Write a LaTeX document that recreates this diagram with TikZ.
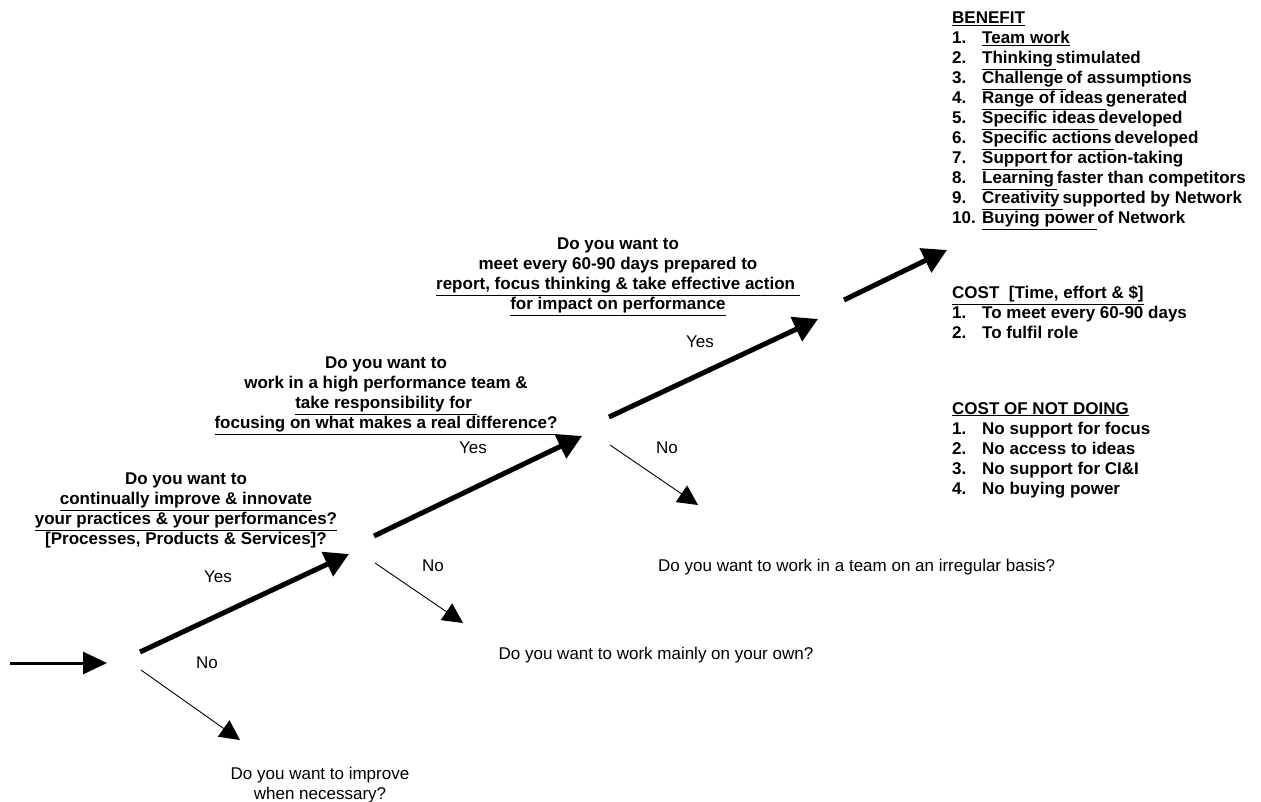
\documentclass[tikz,border=0pt]{standalone}
\usepackage{fontspec}
\setmainfont{Liberation Sans}
\usetikzlibrary{arrows.meta}

\tikzset{
	question/.style={font=\bfseries\fontsize{17}{20}\selectfont, align=center, inner sep=0pt, anchor=north},
	answer/.style={font=\fontsize{17}{20}\selectfont, inner sep=0pt},
	listing/.style={font=\bfseries\fontsize{17}{20}\selectfont, align=left, inner sep=0pt, anchor=north west},
	yesarrow/.style={line width=5pt, -{Triangle[length=24pt, width=26pt]}},
	noarrow/.style={line width=0.9pt, -{Triangle[length=20pt, width=20pt]}},
	startarrow/.style={line width=3pt, -{Triangle[length=24pt, width=22pt]}}
}
\newcommand{\nr}[1]{\makebox[30pt][l]{#1}}

\begin{document}
\begin{tikzpicture}[x=1pt, y=-1pt]
	\useasboundingbox (0,0) rectangle (1261,801);

	\coordinate (e0) at (10,663);
	\coordinate (e1) at (107,663);
	\coordinate (y1a) at (140,652);
	\coordinate (y1b) at (349,554);
	\coordinate (n1a) at (141,670);
	\coordinate (n1b) at (240,740);
	\coordinate (y2a) at (374,536);
	\coordinate (y2b) at (582,436);
	\coordinate (n2a) at (375,563);
	\coordinate (n2b) at (463,623);
	\coordinate (y3a) at (609,417);
	\coordinate (y3b) at (818,319);
	\coordinate (n3a) at (610,445);
	\coordinate (n3b) at (698,505);
	\coordinate (y4a) at (844,300);
	\coordinate (y4b) at (947,250);

	\draw[startarrow] (e0) -- (e1);
	\draw[yesarrow] (y1a) -- (y1b);
	\draw[noarrow] (n1a) -- (n1b);
	\draw[yesarrow] (y2a) -- (y2b);
	\draw[noarrow] (n2a) -- (n2b);
	\draw[yesarrow] (y3a) -- (y3b);
	\draw[noarrow] (n3a) -- (n3b);
	\draw[yesarrow] (y4a) -- (y4b);

	\node[answer] (yes1) at (218,577) {Yes};
	\node[answer] (no1) at (207,663) {No};
	\node[answer] (yes2) at (473,448) {Yes};
	\node[answer] (no2) at (433,566) {No};
	\node[answer] (yes3) at (700,342) {Yes};
	\node[answer] (no3) at (667,448) {No};

	\node[question] (q1) at (186,473) {Do you want to\\
		\underline{continually improve \& innovate}\\
		\underline{your practices \& your performances?}\\
		{[Processes, Products \& Services]?}};
	\node[question] (q2) at (386,357) {Do you want to\\
		work in a high performance team \&\\
		\underline{take responsibility for }\\
		\underline{focusing on what makes a real difference?}};
	\node[question] (q3) at (618,238) {Do you want to\\
		meet every 60-90 days prepared to\\
		\underline{report, focus thinking \& take effective action }\\
		\underline{for impact on performance}};

	\node[answer, align=center, anchor=north] (a1) at (320,767) {Do you want to improve\\when necessary?};
	\node[answer] (a2) at (656,655) {Do you want to work mainly on your own?};
	\node[answer, anchor=west] (a3) at (658,567) {Do you want to work in a team on an irregular basis?};

	\node[listing] (benefit) at (952,12) {\underline{BENEFIT}\\
		\nr{1.}\underline{Team work}\\
		\nr{2.}\underline{Thinking\,}stimulated\\
		\nr{3.}\underline{Challenge\,}of assumptions\\
		\nr{4.}\underline{Range of ideas\,}generated\\
		\nr{5.}\underline{Specific ideas\,}developed\\
		\nr{6.}\underline{Specific actions\,}developed\\
		\nr{7.}\underline{Support\,}for action-taking\\
		\nr{8.}\underline{Learning\,}faster than competitors\\
		\nr{9.}\underline{Creativity\,}supported by Network\\
		\nr{10.}\underline{Buying power\,}of Network};
	\node[listing] (cost) at (952,286) {\underline{COST\ \ [Time, effort \& \$]}\\
		\nr{1.}To meet every 60-90 days\\
		\nr{2.}To fulfil role};
	\node[listing] (notdoing) at (952,402) {\underline{COST OF NOT DOING}\\
		\nr{1.}No support for focus\\
		\nr{2.}No access to ideas\\
		\nr{3.}No support for CI\&I\\
		\nr{4.}No buying power};
\end{tikzpicture}
\end{document}
